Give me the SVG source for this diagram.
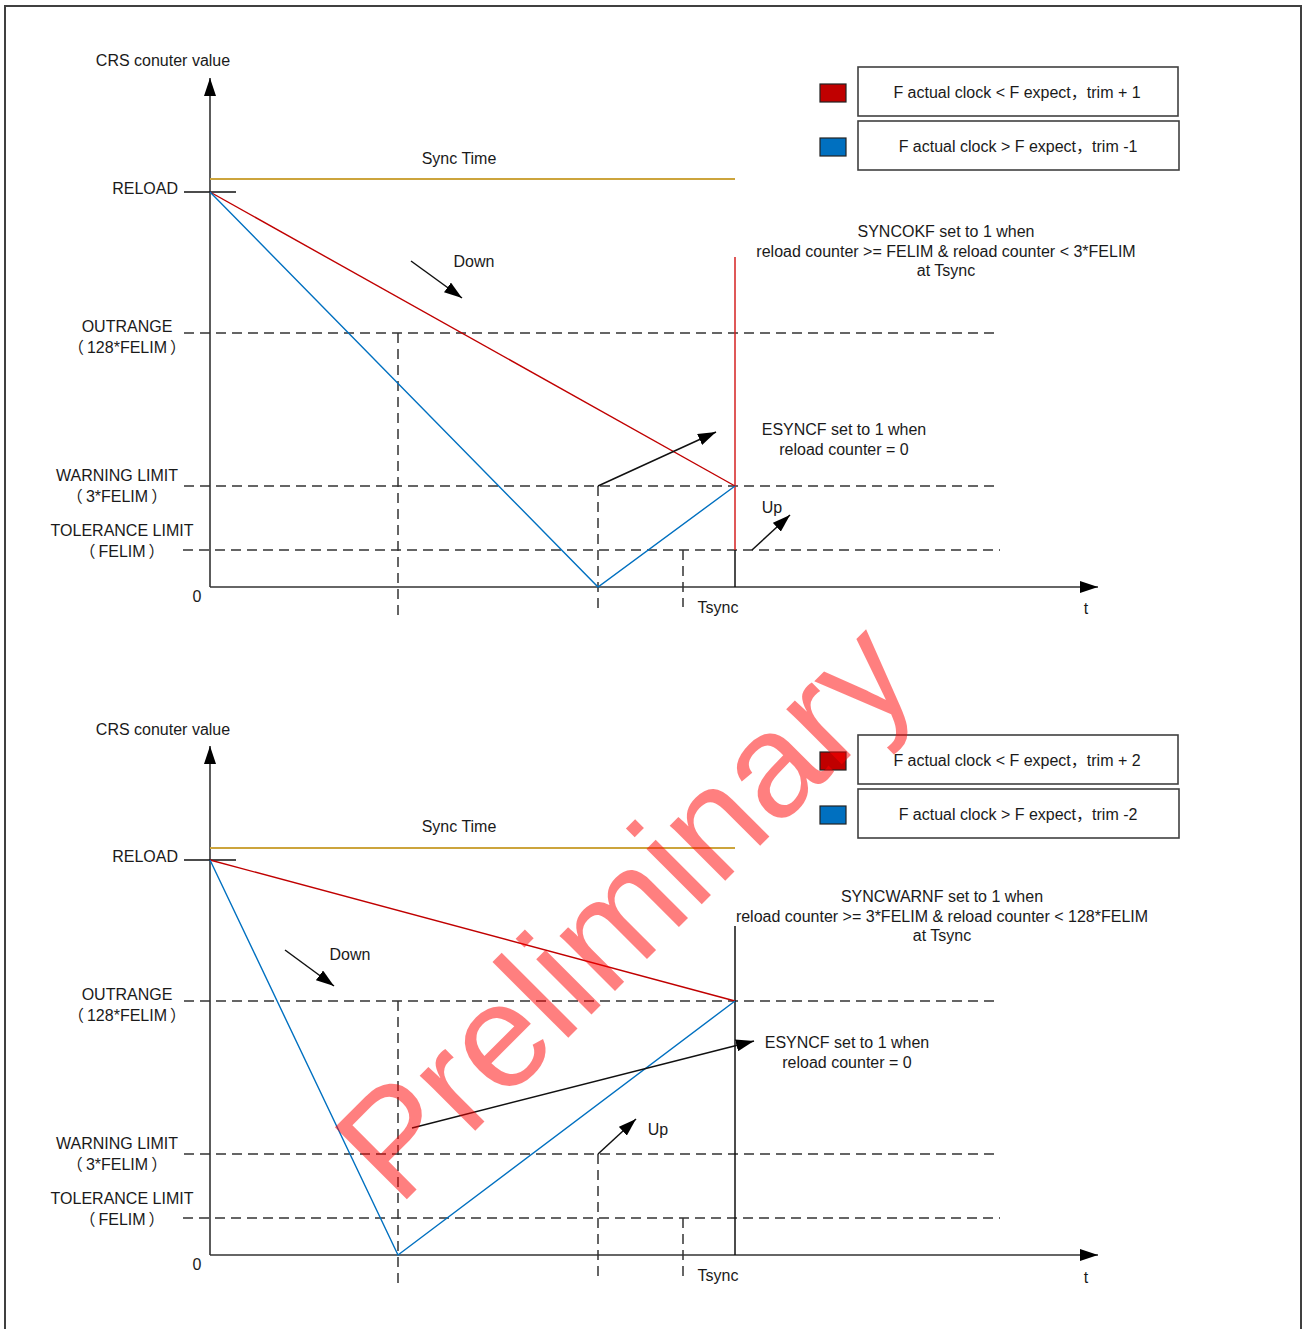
<svg xmlns="http://www.w3.org/2000/svg" width="1306" height="1329" viewBox="0 0 1306 1329">
  <defs>
    <style>
      text { font-family: "Liberation Sans", "Noto Sans CJK SC", sans-serif; font-size: 16px; fill: #1a1a1a; }
      .cjk { font-family: "Noto Sans CJK SC", sans-serif; }
      .mid { text-anchor: middle; }
      .axis { stroke: #333; stroke-width: 1.6; fill: none; }
      .dash { stroke: #333; stroke-width: 1.5; stroke-dasharray: 10 6; fill: none; }
      .ptr { stroke: #111; stroke-width: 1.5; fill: none; }
      .red { stroke: #c00000; stroke-width: 1.4; fill: none; }
      .blue { stroke: #0070c0; stroke-width: 1.4; fill: none; }
      .sync { stroke: #cca43c; stroke-width: 2; fill: none; }
      .box { fill: #fff; stroke: #404040; stroke-width: 1.6; }
      .mark { stroke: #222; stroke-width: 1.2; }
      .wm { font-size: 148px; fill: #ff0000; fill-opacity: 0.5; text-anchor: middle; }
    </style>
    <marker id="head" viewBox="0 0 18 12" refX="18" refY="6" markerWidth="18" markerHeight="12" markerUnits="userSpaceOnUse" orient="auto">
      <path d="M0,0 L18,6 L0,12 Z" fill="#000"/>
    </marker>
    <marker id="axisHead" viewBox="0 0 18 12" refX="18" refY="6" markerWidth="18" markerHeight="12" markerUnits="userSpaceOnUse" orient="auto">
      <path d="M0,0 L18,6 L0,12 Z" fill="#000"/>
    </marker>
  </defs>

  <rect width="1306" height="1329" fill="#fff"/>
  <!-- page frame, open at the bottom -->
  <path d="M5,1335 V6 H1301 V1335" fill="none" stroke="#404040" stroke-width="2"/>

  <!-- ===== upper chart: trim ±1 ===== -->
  <g id="chart1">
    <g id="chart1-axes">
      <line class="axis" x1="210" y1="587" x2="210" y2="78" marker-end="url(#axisHead)"/>
      <line class="axis" x1="210" y1="587" x2="1098" y2="587" marker-end="url(#axisHead)"/>
      <line x1="184" y1="192" x2="236" y2="192" stroke="#111" stroke-width="1.4"/>
      <text x="163" y="66" class="mid">CRS conuter value</text>
      <text x="178" y="194" text-anchor="end">RELOAD</text>
      <text x="197" y="602" class="mid">0</text>
      <text x="1086" y="614" class="mid">t</text>
      <text x="718" y="613" class="mid">Tsync</text>
    </g>
    <g id="chart1-levels">
      <line class="dash" x1="184" y1="333" x2="1000" y2="333"/>
      <line class="dash" x1="184" y1="486" x2="1000" y2="486"/>
      <line class="dash" x1="183" y1="550" x2="1000" y2="550"/>
      <line class="dash" x1="398" y1="333" x2="398" y2="615"/>
      <line class="dash" x1="598" y1="486" x2="598" y2="609"/>
      <line class="dash" x1="683" y1="550" x2="683" y2="607"/>
      <text x="127" y="332" class="mid">OUTRANGE</text>
      <text x="127" y="353" class="mid"><tspan class="cjk">（</tspan><tspan dx="3">128*FELIM</tspan><tspan class="cjk" dx="3">）</tspan></text>
      <text x="117" y="481" class="mid">WARNING LIMIT</text>
      <text x="117" y="502" class="mid"><tspan class="cjk">（</tspan><tspan dx="3">3*FELIM</tspan><tspan class="cjk" dx="3">）</tspan></text>
      <text x="122" y="536" class="mid">TOLERANCE LIMIT</text>
      <text x="122" y="557" class="mid"><tspan class="cjk">（</tspan><tspan dx="3">FELIM</tspan><tspan class="cjk" dx="3">）</tspan></text>
    </g>
    <g id="chart1-sync">
      <line class="sync" x1="210" y1="179" x2="735" y2="179"/>
      <text x="459" y="164" class="mid">Sync Time</text>
      <line x1="735" y1="257" x2="735" y2="550" stroke="#d42020" stroke-width="1.5"/>
      <line x1="735" y1="550" x2="735" y2="587" stroke="#111" stroke-width="1.5"/>
    </g>
    <g id="chart1-counters">
      <polyline class="red" points="210,192 735,486"/>
      <polyline class="blue" points="210,192 598,587 735,486"/>
    </g>
    <g id="chart1-pointers">
      <line class="ptr" x1="411" y1="261" x2="462" y2="298" marker-end="url(#head)"/>
      <text x="474" y="267" class="mid">Down</text>
      <line class="ptr" x1="598" y1="486" x2="716" y2="432" marker-end="url(#head)"/>
      <line class="ptr" x1="752" y1="550" x2="790" y2="515" marker-end="url(#head)"/>
      <text x="772" y="513" class="mid">Up</text>
    </g>
    <g id="chart1-notes">
      <text x="946" y="237" class="mid">SYNCOKF set to 1 when</text>
      <text x="946" y="257" class="mid">reload counter &gt;= FELIM &amp; reload counter &lt; 3*FELIM</text>
      <text x="946" y="276" class="mid">at Tsync</text>
      <text x="844" y="435" class="mid">ESYNCF set to 1 when</text>
      <text x="844" y="455" class="mid">reload counter = 0</text>
    </g>
    <g id="chart1-legend">
      <rect class="mark" x="820" y="84" width="26" height="18" fill="#c00000"/>
      <rect class="box" x="858" y="67" width="320" height="49"/>
      <text x="1017" y="98" class="mid">F actual clock &lt; F expect<tspan class="cjk">，</tspan>trim + 1</text>
      <rect class="mark" x="820" y="138" width="26" height="18" fill="#0070c0"/>
      <rect class="box" x="858" y="121" width="321" height="49"/>
      <text x="1018" y="152" class="mid">F actual clock &gt; F expect<tspan class="cjk">，</tspan>trim -1</text>
    </g>
  </g>

  <!-- ===== lower chart: trim ±2 ===== -->
  <g id="chart2">
    <g id="chart2-axes">
      <line class="axis" x1="210" y1="1255" x2="210" y2="746" marker-end="url(#axisHead)"/>
      <line class="axis" x1="210" y1="1255" x2="1098" y2="1255" marker-end="url(#axisHead)"/>
      <line x1="184" y1="860" x2="236" y2="860" stroke="#111" stroke-width="1.4"/>
      <text x="163" y="735" class="mid">CRS conuter value</text>
      <text x="178" y="862" text-anchor="end">RELOAD</text>
      <text x="197" y="1270" class="mid">0</text>
      <text x="1086" y="1283" class="mid">t</text>
      <text x="718" y="1281" class="mid">Tsync</text>
    </g>
    <g id="chart2-levels">
      <line class="dash" x1="184" y1="1001" x2="1000" y2="1001"/>
      <line class="dash" x1="184" y1="1154" x2="1000" y2="1154"/>
      <line class="dash" x1="183" y1="1218" x2="1000" y2="1218"/>
      <line class="dash" x1="398" y1="1001" x2="398" y2="1283"/>
      <line class="dash" x1="598" y1="1154" x2="598" y2="1278"/>
      <line class="dash" x1="683" y1="1218" x2="683" y2="1276"/>
      <text x="127" y="1000" class="mid">OUTRANGE</text>
      <text x="127" y="1021" class="mid"><tspan class="cjk">（</tspan><tspan dx="3">128*FELIM</tspan><tspan class="cjk" dx="3">）</tspan></text>
      <text x="117" y="1149" class="mid">WARNING LIMIT</text>
      <text x="117" y="1170" class="mid"><tspan class="cjk">（</tspan><tspan dx="3">3*FELIM</tspan><tspan class="cjk" dx="3">）</tspan></text>
      <text x="122" y="1204" class="mid">TOLERANCE LIMIT</text>
      <text x="122" y="1225" class="mid"><tspan class="cjk">（</tspan><tspan dx="3">FELIM</tspan><tspan class="cjk" dx="3">）</tspan></text>
    </g>
    <g id="chart2-sync">
      <line class="sync" x1="210" y1="848" x2="735" y2="848"/>
      <text x="459" y="832" class="mid">Sync Time</text>
      <line x1="735" y1="926" x2="735" y2="1255" stroke="#111" stroke-width="1.5"/>
    </g>
    <g id="chart2-counters">
      <polyline class="red" points="210,860 735,1001"/>
      <polyline class="blue" points="210,860 398,1255 735,1001"/>
    </g>
    <g id="chart2-pointers">
      <line class="ptr" x1="285" y1="950" x2="334" y2="986" marker-end="url(#head)"/>
      <text x="350" y="960" class="mid">Down</text>
      <line class="ptr" x1="412" y1="1128" x2="754" y2="1041" marker-end="url(#head)"/>
      <line class="ptr" x1="598" y1="1154" x2="636" y2="1119" marker-end="url(#head)"/>
      <text x="658" y="1135" class="mid">Up</text>
    </g>
    <g id="chart2-notes">
      <text x="942" y="902" class="mid">SYNCWARNF set to 1 when</text>
      <text x="942" y="922" class="mid">reload counter &gt;= 3*FELIM &amp; reload counter &lt; 128*FELIM</text>
      <text x="942" y="941" class="mid">at Tsync</text>
      <text x="847" y="1048" class="mid">ESYNCF set to 1 when</text>
      <text x="847" y="1068" class="mid">reload counter = 0</text>
    </g>
    <g id="chart2-legend">
      <rect class="mark" x="820" y="752" width="26" height="18" fill="#c00000"/>
      <rect class="box" x="858" y="735" width="320" height="49"/>
      <text x="1017" y="766" class="mid">F actual clock &lt; F expect<tspan class="cjk">，</tspan>trim + 2</text>
      <rect class="mark" x="820" y="806" width="26" height="18" fill="#0070c0"/>
      <rect class="box" x="858" y="789" width="321" height="49"/>
      <text x="1018" y="820" class="mid">F actual clock &gt; F expect<tspan class="cjk">，</tspan>trim -2</text>
    </g>
  </g>

  <!-- watermark -->
  <text class="wm" x="660" y="946" transform="rotate(-45 660 946)">Preliminary</text>
</svg>
